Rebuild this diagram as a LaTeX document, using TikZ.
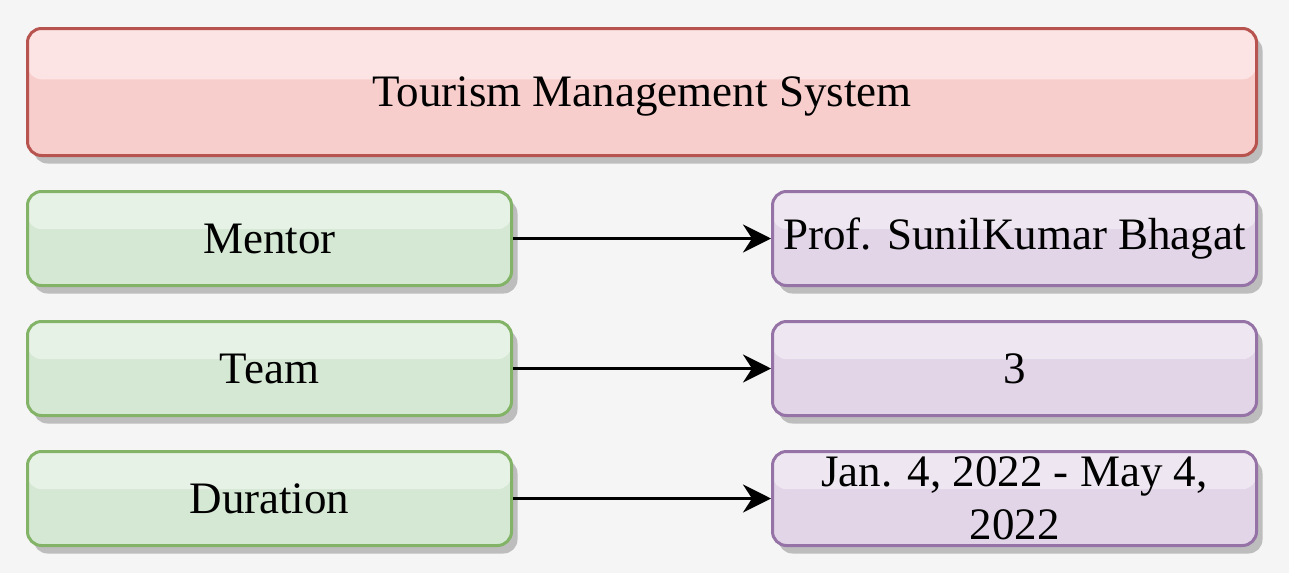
\documentclass[tikz,border=0pt]{standalone}
\usepackage{fontspec}
\setmainfont{Liberation Serif}
\usetikzlibrary{arrows.meta,
                calc,
                positioning,
                shadows}
\definecolor{pagebg}{HTML}{F5F5F5}
\definecolor{redfill}{HTML}{F8CECC}
\definecolor{redline}{HTML}{B85450}
\definecolor{greenfill}{HTML}{D5E8D4}
\definecolor{greenline}{HTML}{82B366}
\definecolor{purplefill}{HTML}{E1D5E7}
\definecolor{purpleline}{HTML}{9673A6}

\begin{document}
\begin{tikzpicture}[x=1pt, y=1pt]
    \tikzset
    {
        base/.style = {draw,
                       line width = 3pt,
                       rounded corners = 14pt,
                       node distance = 33pt and 258pt,
                       minimum width = 484pt,
                       minimum height = 94pt,
                       inner sep = 0pt,
                       align = center,
                       font = \fontsize{45}{53}\selectfont,
                       drop shadow = {shadow xshift = 6pt,
                                      shadow yshift = -8pt,
                                      fill = black!26,
                                      opacity = 1},
                       path picture = {\fill[white, opacity = 0.45]
                           (path picture bounding box.north west) rectangle
                           ($(path picture bounding box.east)!0.2!(path picture bounding box.north east)$);}},
        titlebox/.style = {base,
                           minimum width = 1229pt,
                           minimum height = 127pt,
                           fill = redfill,
                           draw = redline},
        keybox/.style = {base,
                         fill = greenfill,
                         draw = greenline},
        valuebox/.style = {base,
                           fill = purplefill,
                           draw = purpleline},
        link/.style = {line width = 3pt,
                       -{Stealth[length = 28pt, width = 28pt, inset = 9pt]}}
    };

    % Page
    \fill[pagebg] (0,0) rectangle (1289,-573);
    \useasboundingbox (0,0) rectangle (1289,-573);

    % Title
    \node[titlebox] (title) at (642,-92) {\raisebox{-4pt}[\height][\depth]{Tourism Management System}};
    % Keys
    \node[keybox] (mentor) [below=of title.south west, anchor=north west] {Mentor};
    \node[keybox] (team) [below=of mentor] {Team};
    \node[keybox] (duration) [below=of team] {Duration};
    % Values
    \node[valuebox] (prof) [right=of mentor] {Prof. SunilKumar Bhagat};
    \node[valuebox] (size) [right=of team] {3};
    \node[valuebox] (dates) [right=of duration] {Jan. 4, 2022 - May 4,\\2022};

    % Arrows
    \draw[link] (mentor)   -- (prof);
    \draw[link] (team)     -- (size);
    \draw[link] (duration) -- (dates);

\end{tikzpicture}
\end{document}
